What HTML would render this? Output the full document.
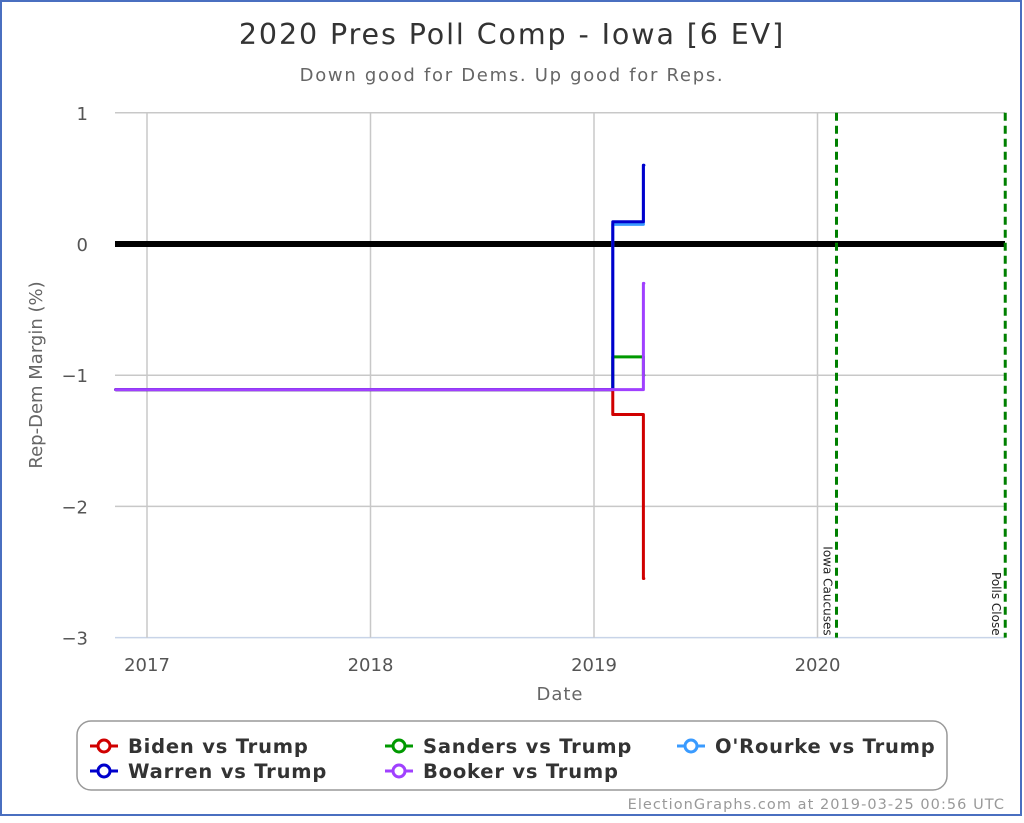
<!DOCTYPE html>
<html><head><meta charset="utf-8"><style>
html,body{margin:0;padding:0;background:#fff;}
body{width:1024px;height:819px;overflow:hidden;font-family:"DejaVu Sans","Liberation Sans",sans-serif;}
</style></head><body>
<svg id="chart" width="1024" height="819" xmlns="http://www.w3.org/2000/svg" font-family="DejaVu Sans, Liberation Sans, sans-serif">
<rect x="1" y="1" width="1020" height="814" fill="#fff" stroke="#4a6fc0" stroke-width="2"/>
<text x="512" y="44" text-anchor="middle" font-size="28.5" letter-spacing="1.9" fill="#333">2020 Pres Poll Comp - Iowa [6 EV]</text>
<text x="512" y="81" text-anchor="middle" font-size="18" letter-spacing="1.7" fill="#666">Down good for Dems. Up good for Reps.</text>
<g id="grid"></g>
<g id="series"></g>
<text x="560" y="700" text-anchor="middle" font-size="18" letter-spacing="1" fill="#666">Date</text>
<text transform="translate(42,375) rotate(-90)" text-anchor="middle" font-size="18" fill="#666">Rep-Dem Margin (%)</text>
<rect x="77" y="721" width="870" height="69" rx="14" fill="#fff" stroke="#999" stroke-width="1.5"/>
<g id="legend"></g>
<text x="1005" y="809" text-anchor="end" font-size="14.5" letter-spacing="1.05" fill="#999">ElectionGraphs.com at 2019-03-25 00:56 UTC</text>
</svg>
<script>
const yTicks=[1,0,-1,-2,-3];
const yTickLabels=["1","0","−1","−2","−3"];
const xTicks=[2017,2018,2019,2020];
const xTickLabels=["2017","2018","2019","2020"];
const seriesNames=["O'Rourke vs Trump","Sanders vs Trump","Biden vs Trump","Warren vs Trump","Booker vs Trump"];
const seriesColors=["#3a9bff","#009900","#d00000","#0000cc","#a040ff"];
const stepDates=[2016.86,2019.084,2019.221];
const endDate=2019.223;
const orourkeVals=[-1.11,0.15,0.6];
const sandersVals=[-1.11,-0.86,-1.0];
const bidenVals=[-1.11,-1.3,-2.55];
const warrenVals=[-1.11,0.17,0.6];
const bookerVals=[-1.11,-1.11,-0.3];
const allVals=[orourkeVals,sandersVals,bidenVals,warrenVals,bookerVals];
const eventDates=[2020.085,2020.84];
const eventLabels=["Iowa Caucuses","Polls Close"];

const NS="http://www.w3.org/2000/svg";
const X0=115,X1=1005;
function xS(d){return 147+(d-2017)*223.5;}
function yS(v){return 244-v*131.2;}
function mk(t,a,p){const e=document.createElementNS(NS,t);for(const k in a)e.setAttribute(k,a[k]);p.appendChild(e);return e;}
const grid=document.getElementById('grid');
yTicks.forEach((v,i)=>{
  const l=mk('line',{x1:X0,x2:X1,y1:yS(v),y2:yS(v),stroke:v===-3?'#c8d4e8':'#c8c8c8','stroke-width':1.5},grid);
  
  
  const t=mk('text',{x:88,y:yS(v)+7,'text-anchor':'end','font-size':18,fill:'#555'},grid);
  t.textContent=yTickLabels[i];
  
  
});
xTicks.forEach((d,i)=>{
  const l=mk('line',{x1:xS(d),x2:xS(d),y1:yS(1),y2:yS(-3),stroke:'#c8c8c8','stroke-width':1.5},grid);
  
  
  const t=mk('text',{x:xS(d),y:671,'text-anchor':'middle','font-size':18,fill:'#555'},grid);
  t.textContent=xTickLabels[i];
  
  
});
const z=mk('line',{x1:X0,x2:X1,y1:yS(0),y2:yS(0),stroke:'#000','stroke-width':6},grid);


eventDates.forEach((d,i)=>{
  const l=mk('line',{x1:xS(d),x2:xS(d),y1:yS(1),y2:yS(-3),stroke:'#008000','stroke-width':3,'stroke-dasharray':'8,5'},grid);
  
  
  const t=mk('text',{transform:`translate(${xS(d)-13},${yS(-3)-2}) rotate(90)`,'text-anchor':'end','font-size':12,fill:'#222'},grid);
  t.textContent=eventLabels[i];
  
  
});
const sg=document.getElementById('series');
allVals.forEach((vals,si)=>{
  let d='M'+xS(stepDates[0])+','+yS(vals[0]);
  for(let i=1;i<vals.length;i++){d+=' H'+xS(stepDates[i])+' V'+yS(vals[i]);}
  d+=' H'+xS(endDate);
  const p=mk('path',{d:d,fill:'none',stroke:seriesColors[si],'stroke-width':3,'stroke-linejoin':'round','stroke-linecap':'round'},sg);
  
  
});
const lg=document.getElementById('legend');
const legendOrder=[2,1,0,3,4];
const pos=[[90,746],[385,746],[677,746],[90,771],[385,771]];
legendOrder.forEach((si,k)=>{
  const [x,y]=pos[k];
  const g=mk('g',{},lg);
  
  
  mk('line',{x1:x,x2:x+28,y1:y,y2:y,stroke:seriesColors[si],'stroke-width':3},g);
  mk('circle',{cx:x+14,cy:y,r:6,fill:'#fff',stroke:seriesColors[si],'stroke-width':3},g);
  const t=mk('text',{x:x+38,y:y+7,'font-size':19.5,'font-weight':'bold','letter-spacing':0.8,fill:'#333'},g);
  t.textContent=seriesNames[si];
});
</script>
</body></html>
